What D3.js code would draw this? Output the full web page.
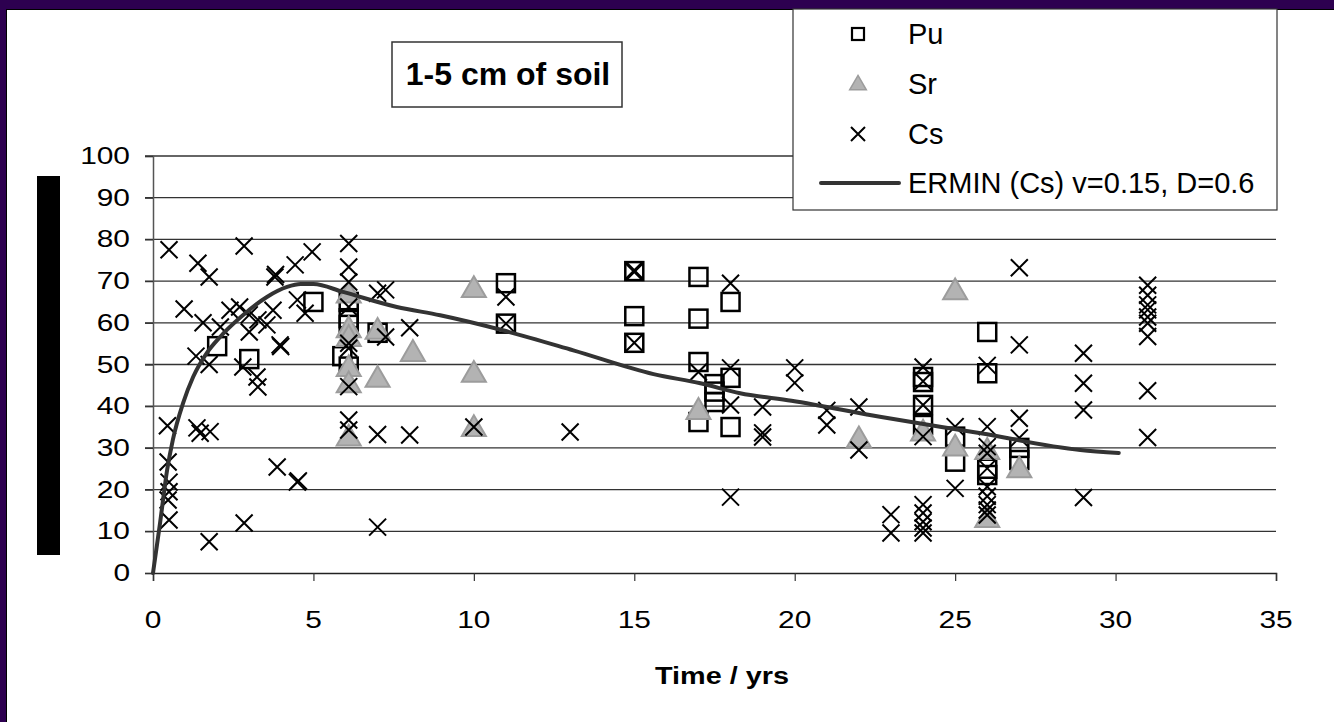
<!DOCTYPE html>
<html>
<head>
<meta charset="utf-8">
<script src="https://cdn.jsdelivr.net/npm/d3@7"></script>
<style>
  html, body { margin: 0; padding: 0; background: #fff; }
  svg { display: block; font-family: "Liberation Sans", Arial, sans-serif; }
</style>
</head>
<body>
<div id="chart"></div>
<script>
// Pu observations [time yrs, value]
const puPoints = [
  [2, 54.4], [3, 51.3], [5, 65], [6.1, 65], [6.1, 61.1], [6.1, 59.5], [5.9, 52], [6.1, 49.5],
  [7, 57.6], [11, 69.5], [11, 59.8], [15, 72.4], [15, 61.6], [15, 55.2], [17, 71], [17, 61],
  [17, 50.6], [17, 36.2], [17.5, 45.3], [17.5, 43.5], [17.5, 41], [18, 65], [18, 46.8], [18, 35],
  [24, 47], [24, 45.8], [24, 40.3], [24, 35.5], [25, 32.7], [25, 26.7], [26, 57.8], [26, 47.9],
  [26, 25], [26, 23.5], [27, 30], [27, 27.1]
];

// Sr observations
const srPoints = [
  [6.1, 67], [6.1, 58.7], [6.1, 56.6], [6.1, 49.4], [6.1, 45.5], [6.1, 32.7], [7, 58.3], [7, 46.8],
  [8.1, 53], [10, 68.3], [10, 48], [10, 35], [17, 39.1], [22, 32.3], [24, 33.9], [25, 67.8],
  [25, 30.3], [26, 29.5], [26, 13.2], [27, 25.1]
];

// Cs observations
const csPoints = [
  [0.5, 77.5], [0.45, 35.3], [0.47, 26.6], [0.5, 21.8], [0.5, 19.5], [0.47, 17.5], [0.5, 12.7],
  [0.97, 63.3], [1.4, 74.3], [1.34, 52], [1.37, 34.8], [1.47, 33.5], [1.56, 60],
  [1.75, 71], [1.75, 50], [1.78, 33.9], [1.75, 7.5], [2.84, 78.4], [2.84, 12],
  [2.1, 59], [2.4, 63], [2.7, 63.8], [3.0, 61.9], [3.0, 57.8], [3.27, 60.7], [3.55, 59.5],
  [3.74, 63], [4.5, 65.5], [4.74, 62.3], [3.96, 54.7], [3.98, 54.3], [2.8, 49.4], [3.24, 47],
  [3.27, 44.6], [3.8, 71], [3.82, 71.6], [4.43, 73.9], [4.96, 77], [3.87, 25.4], [4.5, 21.8], [4.53, 22.1],
  [6.1, 79], [6.1, 73.4], [6.1, 69.8], [6.1, 63.8], [6.1, 55.1], [6.1, 53.9], [6.1, 44.7],
  [6.1, 36.7], [6.1, 34.3], [7, 67.1], [7, 33.2], [7, 11], [7.25, 67.9], [7.25, 56.6],
  [8, 58.8], [8, 33.1], [10, 35], [11, 66.2], [11, 59.8], [13, 33.8], [15, 72.6], [15, 72.2],
  [15, 55.2], [17, 48.2], [18, 69.5], [18, 49.2], [18, 40.3], [18, 18.2], [19, 39.8], [19, 33.6],
  [19, 32.6], [20, 49.2], [20, 45.6], [21, 39], [21, 35.5], [22, 39.8], [22, 29.5], [23, 14],
  [23, 9.6], [24, 49.4], [24, 46], [24, 40.3], [24, 32.7], [24, 16.4], [24, 14.4], [24, 12.3],
  [24, 10.8], [24, 9.6], [25, 35.1], [25, 20.3], [26, 49.8], [26, 35.1], [26, 30.3], [26, 28.7],
  [26, 25.1], [26, 20.7], [26, 18.4], [26, 16.4], [26, 15.1], [26, 13.9], [27, 73.2], [27, 54.7],
  [27, 37.1], [27, 32.4], [29, 52.7], [29, 45.5], [29, 39.1], [29, 18.1], [31, 69], [31, 66.6],
  [31, 64.3], [31, 63.1], [31, 61.4], [31, 59.9], [31, 56.7], [31, 43.7], [31, 32.5]
];

// ERMIN model curve
const ermTime = [0, 0.22, 0.44, 0.62, 0.94, 1.25, 1.68, 2.09, 2.71, 3.55, 4.18, 4.6, 5.0, 5.92,
  7.6, 8.95, 10.9, 13.1, 15.6, 17.06, 18.3, 19.9, 22.7, 25.8, 28.9, 30.1];
const ermValue = [0, 12, 24.7, 32, 40.8, 47, 52.8, 56.6, 61.2, 66.2, 68.6, 69.3, 69.3, 67.4,
  63.8, 61.8, 58.2, 53.4, 47.7, 45.5, 43.1, 41.3, 37.4, 33.5, 29.5, 28.8];

const xTicks = [0, 5, 10, 15, 20, 25, 30, 35];
const yTicks = [0, 10, 20, 30, 40, 50, 60, 70, 80, 90, 100];
const legendLabels = ["Pu", "Sr", "Cs", "ERMIN (Cs) v=0.15, D=0.6"];

const width = 1334;
const height = 722;
const purple = "#2d0050";

const svg = d3.select("#chart").append("svg").attr("width", width).attr("height", height);

// frame
svg.append("rect").attr("width", width).attr("height", height).attr("fill", purple);
svg.append("rect").attr("x", 6).attr("y", 9).attr("width", width - 6).attr("height", height - 9)
  .attr("fill", "#fff");
svg.append("line").attr("x1", 6).attr("x2", width).attr("y1", 9.5).attr("y2", 9.5)
  .attr("stroke", "#000").attr("stroke-width", 1);
svg.append("line").attr("x1", 6.5).attr("x2", 6.5).attr("y1", 9).attr("y2", height)
  .attr("stroke", "#000").attr("stroke-width", 1);

const x = d3.scaleLinear().domain([0, 35]).range([153, 1276]);
const y = d3.scaleLinear().domain([0, 100]).range([573, 156]);

// stretched text helper (the original glyphs are wide)
function stretchedText(parent, str, px, py, anchor, size, sx, weight) {
  return parent.append("text")
    .attr("transform", `translate(${px},${py}) scale(${sx},1)`)
    .attr("text-anchor", anchor)
    .attr("font-size", size)
    .attr("font-weight", weight || "normal")
    .attr("fill", "#000")
    .text(str);
}

// gridlines
svg.append("g").selectAll("line").data(yTicks.filter((d) => d > 0)).join("line")
  .attr("x1", 145).attr("x2", x(35))
  .attr("y1", (d) => y(d)).attr("y2", (d) => y(d))
  .attr("stroke", "#333").attr("stroke-width", 1.3);

// y axis
const yAxis = svg.append("g").attr("transform", `translate(${x(0)},0)`)
  .call(d3.axisLeft(y).tickValues(yTicks).tickSize(8).tickFormat(""));
yAxis.select(".domain").attr("stroke", "#555").attr("stroke-width", 1.5);
yAxis.selectAll(".tick line").attr("stroke", "#333").attr("stroke-width", 1.3);
yTicks.forEach((t) => stretchedText(svg, String(t), 130, y(t) + 8, "end", 23, 1.3));

// x axis
const xAxis = svg.append("g").attr("transform", `translate(0,${y(0)})`)
  .call(d3.axisBottom(x).tickValues(xTicks).tickSize(8).tickFormat(""));
xAxis.select(".domain").attr("stroke", "#222").attr("stroke-width", 1.5);
xAxis.selectAll(".tick line").attr("stroke", "#333").attr("stroke-width", 1.2);
xTicks.forEach((t) => stretchedText(svg, String(t), x(t), 628, "middle", 23, 1.3));

stretchedText(svg, "Time / yrs", 722, 684, "middle", 24, 1.2, "bold");

// y axis title (blacked out in the source)
svg.append("rect").attr("x", 37).attr("y", 176).attr("width", 23).attr("height", 379).attr("fill", "#000");

// marker shapes
const sqSize = 18;
const tri = d3.symbol().type(d3.symbolTriangle).size(250);

svg.append("g").selectAll("rect").data(puPoints).join("rect")
  .attr("x", (d) => x(d[0]) - sqSize / 2).attr("y", (d) => y(d[1]) - sqSize / 2)
  .attr("width", sqSize).attr("height", sqSize)
  .attr("fill", "none").attr("stroke", "#000").attr("stroke-width", 2.5);

svg.append("g").selectAll("path").data(srPoints).join("path")
  .attr("transform", (d) => `translate(${x(d[0])},${y(d[1]) + 2})`)
  .attr("d", tri)
  .attr("fill", "#b3b3b3").attr("stroke", "#9c9c9c").attr("stroke-width", 2);

function crossPath(s) {
  return `M${-s},${-s}L${s},${s}M${-s},${s}L${s},${-s}`;
}

svg.append("g").selectAll("path").data(csPoints).join("path")
  .attr("transform", (d) => `translate(${x(d[0])},${y(d[1])})`)
  .attr("d", crossPath(8.5))
  .attr("fill", "none").attr("stroke", "#000").attr("stroke-width", 2);

// ERMIN curve
const line = d3.line().x((d) => x(d[0])).y((d) => y(d[1])).curve(d3.curveMonotoneX);
svg.append("path").datum(ermTime.map((t, i) => [t, ermValue[i]]))
  .attr("d", line).attr("fill", "none").attr("stroke", "#333").attr("stroke-width", 4)
  .attr("stroke-linecap", "round");

// title box
svg.append("rect").attr("x", 392).attr("y", 42).attr("width", 230).attr("height", 65)
  .attr("fill", "#fff").attr("stroke", "#333").attr("stroke-width", 1.5);
svg.append("text").attr("x", 508).attr("y", 85).attr("text-anchor", "middle")
  .attr("font-size", 32).attr("font-weight", "bold").text("1-5 cm of soil");

// legend
const legend = svg.append("g");
legend.append("rect").attr("x", 793).attr("y", 9).attr("width", 484).attr("height", 201)
  .attr("fill", "#fff").attr("stroke", "#333").attr("stroke-width", 1.2);
const legendY = [34, 84, 134, 183];
legend.append("rect").attr("x", 852).attr("y", legendY[0] - 6).attr("width", 12).attr("height", 12)
  .attr("fill", "none").attr("stroke", "#000").attr("stroke-width", 2.2);
legend.append("path").attr("transform", `translate(858,${legendY[1] + 1})`)
  .attr("d", d3.symbol().type(d3.symbolTriangle).size(120))
  .attr("fill", "#b3b3b3").attr("stroke", "#9c9c9c").attr("stroke-width", 1.5);
legend.append("path").attr("transform", `translate(858,${legendY[2]})`)
  .attr("d", crossPath(7)).attr("fill", "none").attr("stroke", "#000").attr("stroke-width", 2);
legend.append("line").attr("x1", 821).attr("x2", 899).attr("y1", legendY[3]).attr("y2", legendY[3])
  .attr("stroke", "#333").attr("stroke-width", 4).attr("stroke-linecap", "round");
legendLabels.forEach((label, i) => {
  legend.append("text").attr("x", 908).attr("y", legendY[i] + 10)
    .attr("font-size", 29).attr("fill", "#000").text(label);
});
</script>
</body>
</html>
